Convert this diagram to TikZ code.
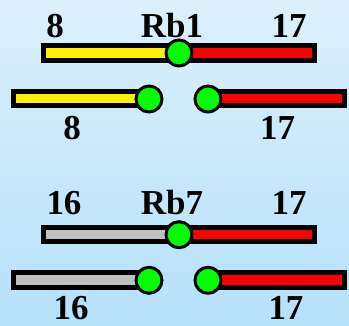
\documentclass[tikz,border=0pt]{standalone}
\usepackage{fontspec}
\setmainfont{Liberation Serif}
\definecolor{bgtop}{HTML}{DCF0FC}
\definecolor{bgbot}{HTML}{B6E1FA}
\definecolor{chrgray}{HTML}{C0C0C0}
\begin{document}
\begin{tikzpicture}[x=1pt,y=-1pt,
  bar/.style={draw=black,line width=5pt},
  cen/.style={circle,draw=black,line width=3pt,fill=green,minimum size=26pt,inner sep=0pt},
  lab/.style={anchor=base,font=\fontsize{35}{40}\selectfont\bfseries,inner sep=0pt}]
\shade[top color=bgtop,bottom color=bgbot] (0,0) rectangle (349,326);
\useasboundingbox (0,0) rectangle (349,326);
% ---- Rb1 ----
\draw[bar,fill=yellow] (43.5,45.5) rectangle (179,60.5);
\draw[bar,fill=red] (179,45.5) rectangle (314.5,60.5);
\node[cen] (c1) at (179,53) {};
\node[lab] (l1) at (55,37.3) {8};
\node[lab] (r1) at (172,37.3) {Rb1};
\node[lab] (s1) at (289,37.3) {17};
\draw[bar,fill=yellow] (13.5,91.5) rectangle (149,106);
\node[cen] (c1a) at (149,99) {};
\draw[bar,fill=red] (208,91.5) rectangle (344.5,106);
\node[cen] (c1b) at (208,99) {};
\node[lab] (l1b) at (72,140) {8};
\node[lab] (s1b) at (277.5,140) {17};
% ---- Rb7 ----
\draw[bar,fill=chrgray] (43.5,227.8) rectangle (179,241.5);
\draw[bar,fill=red] (179,227.8) rectangle (314.5,241.5);
\node[cen] (c7) at (179,234.7) {};
\node[lab] (l7) at (64,214.7) {16};
\node[lab] (r7) at (172,214.7) {Rb7};
\node[lab] (s7) at (289,214.7) {17};
\draw[bar,fill=chrgray] (13.5,272.8) rectangle (149,287.2);
\node[cen] (c7a) at (149,280.3) {};
\draw[bar,fill=red] (208,272.8) rectangle (344.5,287.2);
\node[cen] (c7b) at (208,280.3) {};
\node[lab] (l7b) at (71,319.7) {16};
\node[lab] (s7b) at (286,319.7) {17};
\end{tikzpicture}
\end{document}
